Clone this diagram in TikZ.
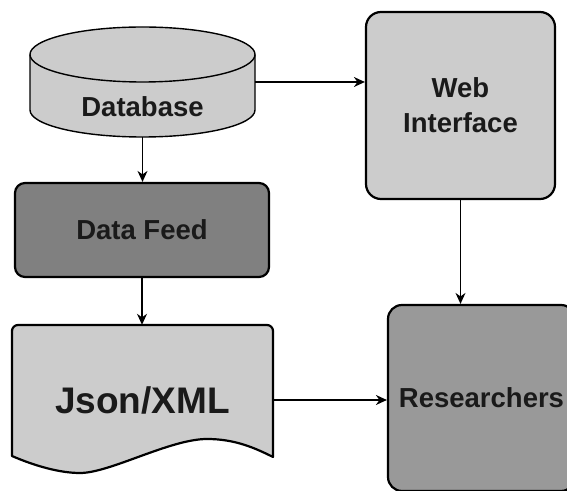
\documentclass[tikz,border=0pt]{standalone}
\usepackage{fontspec}
\setmainfont{Liberation Sans}
\usetikzlibrary{arrows.meta}
\definecolor{lightg}{HTML}{CCCCCC}
\definecolor{darkg}{HTML}{808080}
\definecolor{midg}{HTML}{999999}
\definecolor{txt}{HTML}{1A1A1A}
\tikzset{
  box/.style={draw=black, line width=2.2pt, rounded corners=#1, inner sep=0pt},
  box/.default=10pt,
  lbl/.style={font=\fontsize{27.5}{35}\selectfont\bfseries, text=txt, align=center},
  conn/.style={line width=1.4pt, -{Stealth[length=11pt,width=10pt]}},
}
\begin{document}
\begin{tikzpicture}[x=1pt,y=1pt]
\useasboundingbox (0,0) rectangle (567,490);
% Database cylinder
\filldraw[fill=lightg, draw=black, line width=1.4pt]
  (30,435.5) -- (30,380)
  arc[start angle=180, end angle=360, x radius=112.5pt, y radius=27pt]
  -- (255,435.5)
  arc[start angle=0, end angle=180, x radius=112.5pt, y radius=27.5pt] -- cycle;
\draw[line width=1.4pt] (30,435.5)
  arc[start angle=180, end angle=360, x radius=112.5pt, y radius=27.5pt];
\node[minimum width=225pt, minimum height=110pt, inner sep=0pt] (db) at (142.5,408) {};
\node[lbl] (dbt) at (142.5,383) {Database};
% Data Feed
\node[box, fill=darkg, minimum width=254pt, minimum height=94pt, lbl] (df) at (142,260) {Data Feed};
% Json/XML document
\filldraw[fill=lightg, draw=black, line width=2.2pt, line join=round]
  (12,34) -- (12,160) [rounded corners=6pt] -- (12,165) -- (273,165) [sharp corners] -- (273,33)
  .. controls (255,42) and (235,51) .. (207,51)
  .. controls (170,51) and (110,17) .. (80,17)
  .. controls (60,17) and (35,24) .. (12,34) -- cycle;
\node[minimum width=261pt, minimum height=150pt, inner sep=0pt,
      font=\fontsize{37}{44}\selectfont\bfseries, text=txt] (json) at (142.5,90) {Json/XML};
% Web Interface
\node[box=15pt, fill=lightg, minimum width=189pt, minimum height=187pt, lbl] (web) at (460.5,384.5) {Web\\Interface};
% Researchers
\node[box=14pt, fill=midg, minimum width=187pt, minimum height=186pt, lbl, text width=180pt] (res) at (481.5,92) {Researchers};
% connectors
\draw[conn] (db.east) -- (db.east -| web.west);
\draw[conn] (db.south) -- (db.south |- df.north);
\draw[conn] (df.south) -- (df.south |- json.north);
\draw[conn] (json.east) -- (json.east -| res.west);
\draw[conn] (web.south) -- (web.south |- res.north);
\end{tikzpicture}
\end{document}
